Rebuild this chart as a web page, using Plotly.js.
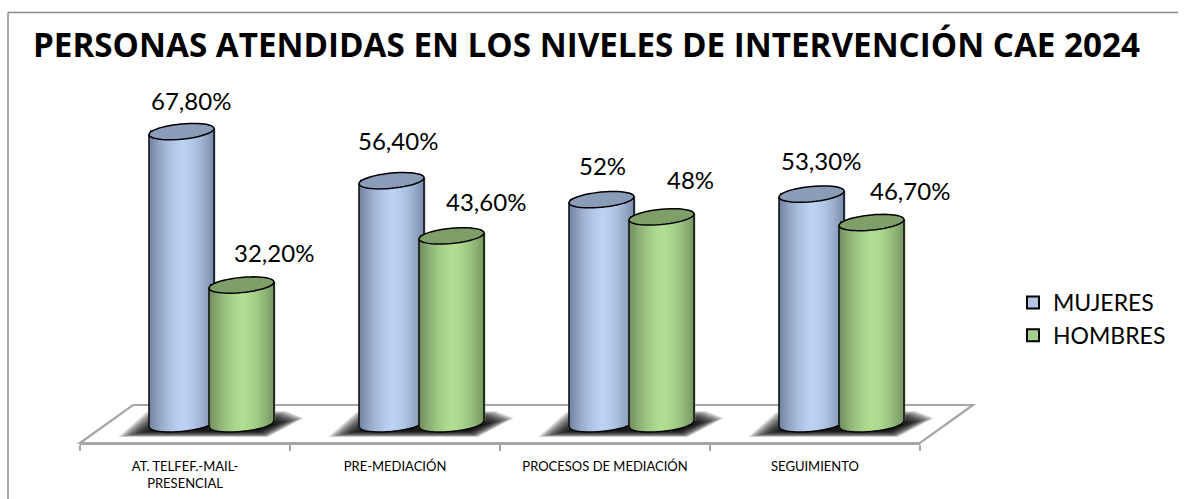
<!DOCTYPE html>
<html><head><meta charset="utf-8">
<script src="https://cdn.plot.ly/plotly-3.0.1.min.js"></script>
<style>html,body{margin:0;padding:0;background:#fff}#c{width:1184px;height:499px}</style>
</head><body><div id="c"></div>
<script>
const categories = ["AT. TELFEF.-MAIL-<br>PRESENCIAL","PRE-MEDIACIÓN","PROCESOS DE MEDIACIÓN","SEGUIMIENTO"];
const mujeres = [67.8,56.4,52,53.3];
const hombres = [32.2,43.6,48,46.7];
const mujeresLabels = ["67,80%","56,40%","52%","53,30%"];
const hombresLabels = ["32,20%","43,60%","48%","46,70%"];
const titleText = "PERSONAS ATENDIDAS EN LOS NIVELES DE INTERVENCIÓN CAE 2024";

const L=80,R=920,T=60,B=443,Y0=423.8,K=4.31,CW=(R-L)/4;
const A=32.5,BE=7.6,SH=3;
const FONT="Lato, Carlito, Calibri, sans-serif";
const dx=p=>p/CW, dy=p=>-p/K;
const px=p=>(p-L)/(R-L), py=p=>(B-p)/(B-T);
const mix=(a,b,f)=>'rgb('+a.map((v,i)=>Math.round(v+(b[i]-v)*f)).join(',')+')';
const series=[
 {name:'MUJERES',v:mujeres,off:-3.5,edge:[112,128,158],mid:[188,210,242],top:'#8a9cb8',leg:'#b4c7e7'},
 {name:'HOMBRES',v:hombres,off:56.5,edge:[110,138,92],mid:[176,222,146],top:'#7f9f68',leg:'#a9d18e'}
];
const traces=[],shapes=[];
const STEP=2;
series.forEach(s=>{
  traces.push({type:'bar',name:s.name,x:categories,y:s.v,width:dx(2*A-4),offset:dx(s.off-A+2),
    marker:{color:s.leg,line:{color:'#000',width:2}},hoverinfo:'skip'});
  for(let p=-A;p<A;p+=STEP){
    const t=(p+STEP/2)/A, tc=Math.max(-1,Math.min(1,t));
    const low=BE*Math.sqrt(1-tc*tc)-SH*tc;
    const base=s.v.map(()=>dy(low));
    const y=s.v.map(v=>v-dy(low)+dy(-SH*tc));
    const f=1-Math.pow(Math.abs(t-0.05)/1.05,1.6);
    traces.push({type:'bar',x:categories,y:y,base:base,width:dx(STEP+0.6),offset:dx(s.off+p-0.3),
      marker:{color:mix(s.edge,s.mid,f),line:{width:0}},hoverinfo:'skip',showlegend:false});
  }
});
// floor
shapes.push({type:'path',xref:'paper',yref:'paper',layer:'below',fillcolor:'#fff',line:{color:'#a6a6a6',width:2.2},
  path:`M${px(L)},${py(B)}L${px(133)},${py(405)}L${px(973)},${py(405)}L${px(R)},${py(B)}Z`});
// floor shadows: stacked translucent layers give the soft edge
const shadowOuter=[[118,437],[268,437],[304,418],[286,411],[146,412]];
const shadowInner=[[150,431],[258,431],[276,424],[268,421],[160,427]];
const SN=24;
categories.forEach((c,i)=>{
  const o=i*CW;
  for(let k=0;k<SN;k++){
    const f=k/(SN-1);
    const pts=shadowOuter.map((q,j)=>[q[0]+(shadowInner[j][0]-q[0])*f,q[1]+(shadowInner[j][1]-q[1])*f]);
    shapes.push({type:'path',xref:'paper',yref:'paper',layer:'below',fillcolor:'rgba(0,0,0,0.085)',line:{width:0},
      path:'M'+pts.map(q=>px(q[0]+o)+','+py(q[1])).join('L')+'Z'});
  }
});
// cylinder outlines and caps, in data units of the axes
const line=(pts)=>'M'+pts.map(q=>q[0]+','+q[1]).join('L');
series.forEach((s,si)=>{
  s.v.forEach((v,i)=>{
    const X=p=>i+dx(s.off+p), Y=(val,p)=>val+dy(p);
    const body=[];
    const tEnd=si===0?0.846:1;
    body.push([X(-A),Y(v,SH)]);
    for(let n=0;n<=40;n++){
      const t=-1+(tEnd+1)*n/40;
      body.push([X(t*A),Y(0,BE*Math.sqrt(Math.max(0,1-t*t))-SH*t)]);
    }
    if(si===1) body.push([X(A),Y(v,-SH)]);
    shapes.push({type:'path',xref:'x',yref:'y',line:{color:'#000',width:1.4},path:line(body)});
    if(si===0){
      const gt=(s.off+A-series[1].off)/A;
      const gv=hombres[i];
      shapes.push({type:'path',xref:'x',yref:'y',line:{color:'#000',width:1.4},
        path:line([[X(A),Y(v,-SH)],[X(A),Math.min(v,Y(gv,-SH*gt))]])});
    }
    const ell=[];
    for(let n=0;n<48;n++){
      const a=2*Math.PI*n/48, t=Math.cos(a);
      ell.push([X(t*A),Y(v,BE*Math.sin(a)-SH*t)]);
    }
    shapes.push({type:'path',xref:'x',yref:'y',fillcolor:s.top,line:{color:'#000',width:1.5},path:line(ell)+'Z'});
  });
});
// border lines (left and top only)
shapes.push({type:'line',xref:'paper',yref:'paper',x0:px(8),x1:px(8),y0:py(12.5),y1:py(499),line:{color:'#8c8c8c',width:1.5}});
shapes.push({type:'line',xref:'paper',yref:'paper',x0:px(8),x1:px(1178),y0:py(12.5),y1:py(12.5),line:{color:'#8c8c8c',width:1.5}});

const labelShift=[[ [9,31],[6,40],[1,34],[9,34] ],[ [32,33],[34,34],[29,37],[38,32] ]];
const annotations=[];
[mujeresLabels,hombresLabels].forEach((labs,si)=>{
  labs.forEach((txt,i)=>{
    annotations.push({xref:'x',yref:'y',x:i+dx(series[si].off),y:series[si].v[i],text:txt,showarrow:false,
      xanchor:'center',yanchor:'middle',xshift:labelShift[si][i][0],yshift:labelShift[si][i][1],
      font:{family:FONT,size:24,color:'#000'}});
  });
});
const layout={
  width:1184,height:499,margin:{l:L,r:1184-R,t:T,b:499-B,pad:0},
  paper_bgcolor:'#fff',plot_bgcolor:'rgba(0,0,0,0)',
  barmode:'overlay',showlegend:true,
  title:{text:'<b>'+titleText+'</b>',xref:'container',x:33/1184,xanchor:'left',yref:'container',y:1-45/499,yanchor:'middle',
    font:{family:"'Open Sans', sans-serif",size:33.2,color:'#000'}},
  xaxis:{type:'category',categoryorder:'array',categoryarray:categories,tickson:'boundaries',range:[-0.5,3.5],
    showgrid:false,zeroline:false,showline:true,linecolor:'#a6a6a6',linewidth:2,ticks:'outside',ticklen:6,tickcolor:'#a6a6a6',tickwidth:1.5,
    ticklabelstandoff:10,tickangle:0,tickfont:{family:FONT,size:13,color:'#000'}},
  yaxis:{range:[-(B-Y0)/K,(Y0-T)/K],visible:false,fixedrange:true},
  legend:{x:px(1013),xanchor:'left',y:py(281),yanchor:'top',font:{family:FONT,size:23,color:'#000'},itemclick:false,traceorder:'normal',bgcolor:'rgba(0,0,0,0)',itemwidth:30,tracegroupgap:0},
  shapes:shapes,annotations:annotations
};
Plotly.newPlot('c',traces,layout,{displayModeBar:false,staticPlot:true});
</script></body></html>
